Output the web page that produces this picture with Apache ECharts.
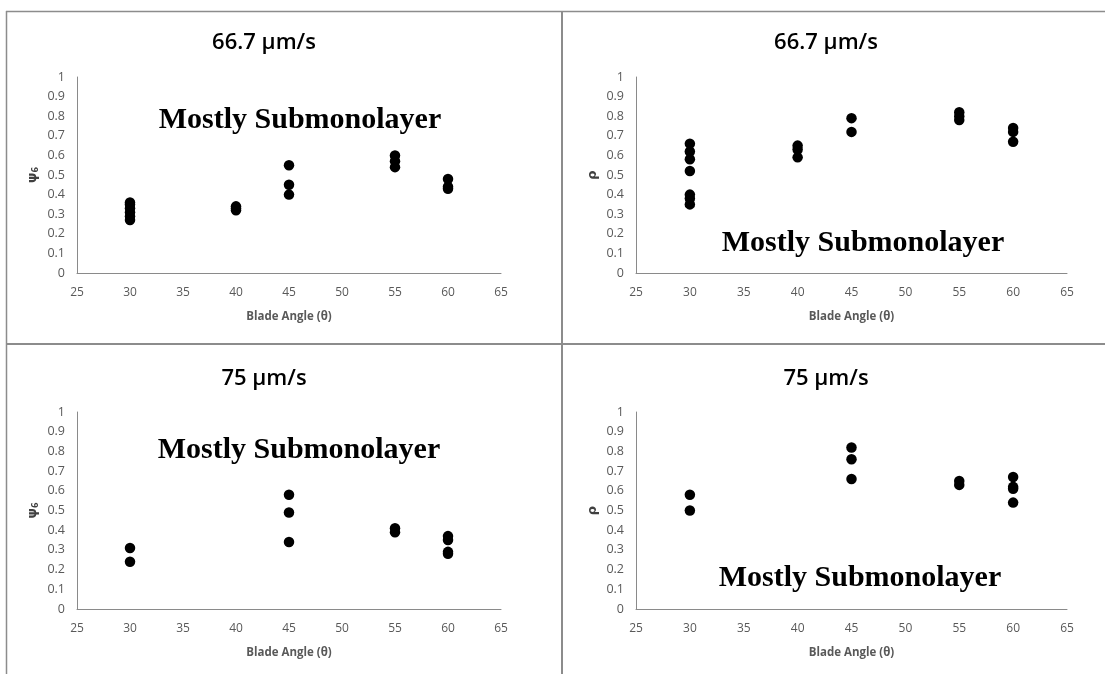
<!DOCTYPE html>
<html>
<head>
<meta charset="utf-8">
<script src="https://cdn.jsdelivr.net/npm/echarts@6/dist/echarts.min.js"></script>
<style>
html,body{margin:0;padding:0;background:#fff;}
#chart{width:1105px;height:674px;}
</style>
</head>
<body>
<div id="chart"></div>
<script>
// ---- data ----
var panelTitles = ['66.7 µm/s', '66.7 µm/s', '75 µm/s', '75 µm/s'];
var yNames = ['{m|ψ}{s|6}', '{m|ρ}', '{m|ψ}{s|6}', '{m|ρ}'];
var xName = 'Blade Angle (θ)';
var noteText = 'Mostly Submonolayer';
var xTicks = [25, 30, 35, 40, 45, 50, 55, 60, 65];
var yTicks = [0, 0.1, 0.2, 0.3, 0.4, 0.5, 0.6, 0.7, 0.8, 0.9, 1];

// panel 1: psi6 at 66.7 um/s
var psi667_x = [30, 30, 30, 30, 30, 30, 40, 40, 40, 45, 45, 45, 55, 55, 55, 60, 60, 60];
var psi667_y = [0.27, 0.29, 0.31, 0.33, 0.35, 0.36, 0.32, 0.33, 0.34, 0.55, 0.45, 0.40, 0.60, 0.57, 0.54, 0.48, 0.44, 0.43];
// panel 2: rho at 66.7 um/s
var rho667_x = [30, 30, 30, 30, 30, 30, 30, 40, 40, 40, 45, 45, 55, 55, 55, 60, 60, 60];
var rho667_y = [0.66, 0.62, 0.58, 0.52, 0.40, 0.38, 0.35, 0.65, 0.63, 0.59, 0.79, 0.72, 0.82, 0.80, 0.78, 0.74, 0.72, 0.67];
// panel 3: psi6 at 75 um/s
var psi75_x = [30, 30, 45, 45, 45, 55, 55, 60, 60, 60, 60];
var psi75_y = [0.31, 0.24, 0.58, 0.49, 0.34, 0.41, 0.39, 0.37, 0.35, 0.29, 0.28];
// panel 4: rho at 75 um/s
var rho75_x = [30, 30, 45, 45, 45, 55, 55, 60, 60, 60, 60];
var rho75_y = [0.58, 0.50, 0.82, 0.76, 0.66, 0.65, 0.63, 0.67, 0.62, 0.61, 0.54];

function pairs(xs, ys) { return xs.map(function (x, i) { return [x, ys[i]]; }); }
var seriesData = [pairs(psi667_x, psi667_y), pairs(rho667_x, rho667_y), pairs(psi75_x, psi75_y), pairs(rho75_x, rho75_y)];

// ---- layout ----
var grids = [
  {left: 77, top: 77, width: 424, height: 196},
  {left: 636, top: 77, width: 431, height: 196},
  {left: 77, top: 412, width: 424, height: 197},
  {left: 636, top: 412, width: 431, height: 197}
];
var titlePos = [[264, 43], [826, 43], [264, 379], [826, 379]];
var notePos = [[300, 120], [863, 243], [299, 450], [860, 578]];

var labelFont = '"Open Sans", "Liberation Sans", sans-serif';
var axisColor = '#8a8a8a';
var labelColor = '#595959';

var xAxes = [], yAxes = [], series = [], graphics = [];
for (var i = 0; i < 4; i++) {
  xAxes.push({
    type: 'value', gridIndex: i, min: xTicks[0], max: xTicks[xTicks.length - 1], interval: 5,
    splitLine: {show: false}, axisTick: {show: false},
    axisLine: {show: true, onZero: false, lineStyle: {color: axisColor, width: 1}},
    axisLabel: {color: labelColor, fontFamily: labelFont, fontSize: 12, margin: 14},
    name: xName, nameLocation: 'middle', nameGap: 38,
    nameTextStyle: {color: labelColor, fontFamily: labelFont, fontSize: 11.5, fontWeight: 'bold'}
  });
  yAxes.push({
    type: 'value', gridIndex: i, min: yTicks[0], max: yTicks[yTicks.length - 1], interval: 0.1,
    splitLine: {show: false}, axisTick: {show: false},
    axisLine: {show: true, onZero: false, lineStyle: {color: axisColor, width: 1}},
    axisLabel: {color: labelColor, fontFamily: labelFont, fontSize: 12.5, margin: 12},
    name: yNames[i], nameLocation: 'middle', nameGap: 37, nameRotate: 90,
    nameTextStyle: {
      rich: {
        m: {color: '#404040', fontFamily: '"DejaVu Sans", sans-serif', fontSize: 13, fontWeight: 'bold'},
        s: {color: '#404040', fontFamily: '"DejaVu Sans", sans-serif', fontSize: 8, fontWeight: 'bold', verticalAlign: 'bottom', padding: [6, 0, 0, 0]}
      }
    }
  });
  series.push({
    type: 'scatter', xAxisIndex: i, yAxisIndex: i, data: seriesData[i],
    symbol: 'circle', symbolSize: 10.5, itemStyle: {color: '#000', opacity: 1},
    silent: true
  });
  graphics.push({
    type: 'text', x: titlePos[i][0], y: titlePos[i][1],
    style: {text: panelTitles[i], fill: '#000', font: '600 22px "Open Sans", sans-serif',
            textAlign: 'center', textVerticalAlign: 'middle'}
  });
  graphics.push({
    type: 'text', x: notePos[i][0], y: notePos[i][1],
    style: {text: noteText, fill: '#000', font: 'bold 30px "Liberation Serif", "Times New Roman", serif',
            textAlign: 'center', textVerticalAlign: 'middle'}
  });
}
// panel borders
var borderStyle = {stroke: '#8c8c8c', lineWidth: 1.5};
graphics.push({type: 'line', shape: {x1: 6, y1: 11.5, x2: 1105, y2: 11.5}, style: borderStyle});
graphics.push({type: 'line', shape: {x1: 6.5, y1: 11, x2: 6.5, y2: 674}, style: borderStyle});
graphics.push({type: 'line', shape: {x1: 562, y1: 11, x2: 562, y2: 674}, style: {stroke: '#8c8c8c', lineWidth: 2}});
graphics.push({type: 'line', shape: {x1: 6, y1: 344, x2: 1105, y2: 344}, style: {stroke: '#8c8c8c', lineWidth: 2}});

var chart = echarts.init(document.getElementById('chart'), null, {renderer: 'canvas'});
chart.setOption({
  animation: false,
  backgroundColor: '#fff',
  grid: grids.map(function (g) { return Object.assign({containLabel: false}, g); }),
  xAxis: xAxes,
  yAxis: yAxes,
  series: series,
  graphic: graphics
});
</script>
</body>
</html>
